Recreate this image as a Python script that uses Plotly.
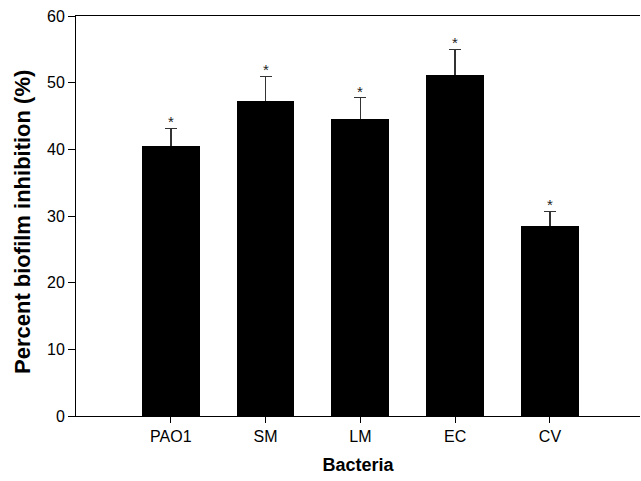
import plotly.graph_objects as go

# Biofilm inhibition by bacterial strain
bacteria = ["PAO1", "SM", "LM", "EC", "CV"]
inhibition = [40.5, 47.2, 44.6, 51.2, 28.5]
sd_error = [2.65, 3.75, 3.15, 3.8, 2.2]
y_ticks = [0, 10, 20, 30, 40, 50, 60]

FONT = "Arial, Liberation Sans, sans-serif"
idx = list(range(len(bacteria)))

fig = go.Figure()
# whisker layer: transparent bars carrying the error bars, drawn first so
# the solid bars on top hide the lower half of each whisker
fig.add_trace(go.Bar(
    x=idx, y=inhibition, width=0.61,
    marker=dict(color="rgba(0,0,0,0)", line=dict(width=0)),
    error_y=dict(type="data", array=sd_error,
                 color="#333333", thickness=1.5, width=6),
    showlegend=False, hoverinfo="skip",
))
fig.add_trace(go.Bar(
    x=idx,
    y=inhibition,
    width=0.61,
    marker=dict(color="black", line=dict(width=0)),
    showlegend=False,
    hoverinfo="skip",
))

# significance markers above each error bar
for i, (v, e) in enumerate(zip(inhibition, sd_error)):
    fig.add_annotation(x=i, y=v + e, text="*", showarrow=False,
                       yanchor="bottom", yshift=-4,
                       font=dict(family=FONT, size=15, color="#222222"))

# y-axis title, placed a little below the plot's vertical centre
fig.add_annotation(
    text="<b>Percent biofilm inhibition (%)</b>",
    xref="paper", yref="paper", x=0, y=0.485,
    xanchor="center", yanchor="middle", xshift=-54,
    textangle=-90, showarrow=False,
    font=dict(family=FONT, size=22, color="black"),
)

fig.update_layout(
    width=641, height=481,
    margin=dict(l=76, r=1, t=16, b=65),
    paper_bgcolor="white", plot_bgcolor="white",
    font=dict(family=FONT, size=16, color="black"),
    barmode="overlay",
    bargap=0,
    xaxis=dict(
        range=[-1, 4.95],
        tickmode="array", tickvals=idx, ticktext=bacteria,
        showline=True, linecolor="black", linewidth=1, mirror=True,
        ticks="outside", ticklen=6, tickcolor="black",
        showgrid=False, zeroline=False,
        title=dict(text="<b>Bacteria</b>", font=dict(size=18), standoff=14),
    ),
    yaxis=dict(
        range=[0, 60],
        tickmode="array", tickvals=y_ticks,
        showline=True, linecolor="black", linewidth=1,
        ticks="outside", ticklen=7, tickcolor="black",
        showgrid=False, zeroline=False,
    ),
)

fig.write_html("out.html")
